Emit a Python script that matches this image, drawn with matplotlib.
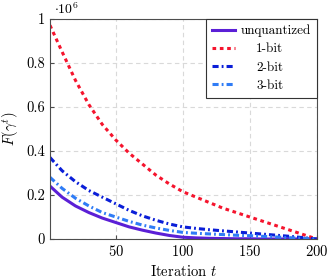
import matplotlib.pyplot as plt
import numpy as np

plt.rcParams["font.family"] = "serif"
plt.rcParams["font.serif"] = ["cmr10", "DejaVu Serif"]
plt.rcParams["mathtext.fontset"] = "cm"
plt.rcParams["axes.formatter.use_mathtext"] = True
plt.rcParams["font.size"] = 10.5

# values in units of 1e6
t = [1, 10, 20, 30, 40, 50, 60, 70, 80, 90, 100, 110, 120, 130, 140, 150, 160, 170, 180, 190, 200]
unquantized = [0.24, 0.19, 0.15, 0.12, 0.095, 0.075, 0.055, 0.04, 0.027, 0.016, 0.008, 0.005, 0.003, 0.002,
               0.001, 0.001, 0.0, 0.0, 0.0, 0.0, 0.0]
bit1 = [0.97, 0.85, 0.72, 0.61, 0.52, 0.45, 0.39, 0.34, 0.29, 0.25, 0.215, 0.19, 0.165, 0.14, 0.12, 0.10,
        0.08, 0.06, 0.04, 0.02, 0.0]
bit2 = [0.37, 0.31, 0.26, 0.22, 0.19, 0.16, 0.13, 0.105, 0.085, 0.068, 0.055, 0.048, 0.042, 0.037, 0.032,
        0.027, 0.022, 0.017, 0.012, 0.006, 0.0]
bit3 = [0.28, 0.23, 0.185, 0.15, 0.12, 0.10, 0.08, 0.063, 0.05, 0.039, 0.03, 0.026, 0.023, 0.02, 0.017,
        0.015, 0.012, 0.009, 0.006, 0.003, 0.0]
labels = ["unquantized", "1-bit", "2-bit", "3-bit"]

fig = plt.figure(figsize=(3.32, 2.79), dpi=100)
ax = fig.add_axes([0.1506, 0.1434, 0.8034, 0.7896])

ax.plot(t, unquantized, color="#5b1fd6", linewidth=2.2, label=labels[0])
ax.plot(t, bit1, color="#f5142d", linewidth=2.2, linestyle=(0, (1.2, 1.2)), label=labels[1])
ax.plot(t, bit2, color="#0a1ed8", linewidth=2.2, linestyle=(0, (2.0, 1.0, 0.6, 1.0)), label=labels[2])
ax.plot(t, bit3, color="#2f7cf6", linewidth=2.2, linestyle=(0, (2.0, 1.0, 0.6, 1.0)), label=labels[3])

ax.set_xlim(1, 200)
ax.set_ylim(0, 1)
ax.set_xticks([50, 100, 150, 200])
ax.set_yticks([0, 0.2, 0.4, 0.6, 0.8, 1.0])
ax.set_yticklabels(["0", "0.2", "0.4", "0.6", "0.8", "1"])
ax.tick_params(direction="in", length=3, color="0.3")
ax.grid(color="0.85", linestyle=(0, (4, 3)), linewidth=0.8)
for s in ax.spines.values():
    s.set_color("0.3")

ax.set_xlabel(r"Iteration $t$")
ax.set_ylabel(r"$F(\gamma^t)$")
ax.text(0.015, 1.02, r"$\cdot 10^6$", transform=ax.transAxes, ha="left", va="baseline", fontsize=10)

leg = ax.legend(loc="upper right", fancybox=False, edgecolor="0.2", framealpha=1, fontsize=9.5,
                borderaxespad=0, handlelength=1.75, handletextpad=0.45, labelspacing=0.45, borderpad=0.45)
leg.get_frame().set_linewidth(0.8)

# centre the short labels under the widest one, as in the reference
fig.canvas.draw()
texts = leg.get_texts()
widths = [tx.get_window_extent().width for tx in texts]
wmax = max(widths)
for tx, w in zip(texts, widths):
    tx.set_position(((wmax - w) / 2 / fig.dpi * 72, 0))

fig.savefig("out.png", dpi=100)
